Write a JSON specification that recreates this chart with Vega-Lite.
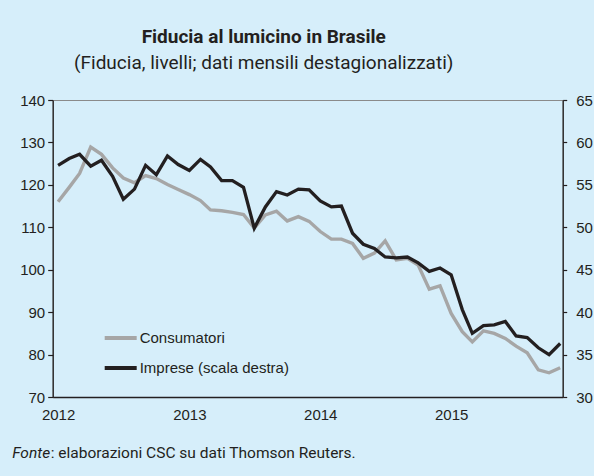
{
  "$schema": "https://vega.github.io/schema/vega-lite/v6.json",
  "width": 510,
  "height": 297,
  "autosize": {"type": "none"},
  "padding": {"left": 52.7, "top": 100, "right": 31.3, "bottom": 79},
  "background": "#d6eefa",
  "title": {
    "text": "Fiducia al lumicino in Brasile",
    "subtitle": "(Fiducia, livelli; dati mensili destagionalizzati)",
    "anchor": "middle",
    "frame": "group",
    "dx": -44,
    "offset": 20,
    "font": "Roboto",
    "fontSize": 19,
    "fontWeight": "bold",
    "color": "#231f20",
    "subtitleFont": "Roboto",
    "subtitleFontSize": 19,
    "subtitleColor": "#231f20",
    "subtitlePadding": 7
  },
  "config": {
    "view": {"stroke": "#8a8a8a", "strokeWidth": 1},
    "axis": {
      "labelFont": "Liberation Sans",
      "labelFontSize": 15,
      "labelColor": "#231f20",
      "domainColor": "#231f20",
      "domainWidth": 1.3,
      "tickColor": "#231f20",
      "tickWidth": 1.2,
      "grid": false
    },
    "legend": {
      "labelFont": "Liberation Sans",
      "labelFontSize": 15,
      "labelColor": "#231f20"
    }
  },
  "datasets": {
    "cons": [
      {"date": "2012-01", "serie": "Consumatori", "value": 116.0},
      {"date": "2012-02", "serie": "Consumatori", "value": 119.4},
      {"date": "2012-03", "serie": "Consumatori", "value": 122.7},
      {"date": "2012-04", "serie": "Consumatori", "value": 128.9},
      {"date": "2012-05", "serie": "Consumatori", "value": 127.2},
      {"date": "2012-06", "serie": "Consumatori", "value": 124.0},
      {"date": "2012-07", "serie": "Consumatori", "value": 121.6},
      {"date": "2012-08", "serie": "Consumatori", "value": 120.5},
      {"date": "2012-09", "serie": "Consumatori", "value": 122.2},
      {"date": "2012-10", "serie": "Consumatori", "value": 121.5},
      {"date": "2012-11", "serie": "Consumatori", "value": 120.1},
      {"date": "2012-12", "serie": "Consumatori", "value": 118.9},
      {"date": "2013-01", "serie": "Consumatori", "value": 117.7},
      {"date": "2013-02", "serie": "Consumatori", "value": 116.3},
      {"date": "2013-03", "serie": "Consumatori", "value": 114.1},
      {"date": "2013-04", "serie": "Consumatori", "value": 113.9},
      {"date": "2013-05", "serie": "Consumatori", "value": 113.5},
      {"date": "2013-06", "serie": "Consumatori", "value": 113.0},
      {"date": "2013-07", "serie": "Consumatori", "value": 109.8},
      {"date": "2013-08", "serie": "Consumatori", "value": 112.9},
      {"date": "2013-09", "serie": "Consumatori", "value": 113.8},
      {"date": "2013-10", "serie": "Consumatori", "value": 111.5},
      {"date": "2013-11", "serie": "Consumatori", "value": 112.5},
      {"date": "2013-12", "serie": "Consumatori", "value": 111.4},
      {"date": "2014-01", "serie": "Consumatori", "value": 109.0},
      {"date": "2014-02", "serie": "Consumatori", "value": 107.2},
      {"date": "2014-03", "serie": "Consumatori", "value": 107.2},
      {"date": "2014-04", "serie": "Consumatori", "value": 106.2},
      {"date": "2014-05", "serie": "Consumatori", "value": 102.7},
      {"date": "2014-06", "serie": "Consumatori", "value": 103.9},
      {"date": "2014-07", "serie": "Consumatori", "value": 106.8},
      {"date": "2014-08", "serie": "Consumatori", "value": 102.3},
      {"date": "2014-09", "serie": "Consumatori", "value": 102.7},
      {"date": "2014-10", "serie": "Consumatori", "value": 101.1},
      {"date": "2014-11", "serie": "Consumatori", "value": 95.4},
      {"date": "2014-12", "serie": "Consumatori", "value": 96.2},
      {"date": "2015-01", "serie": "Consumatori", "value": 89.7},
      {"date": "2015-02", "serie": "Consumatori", "value": 85.4},
      {"date": "2015-03", "serie": "Consumatori", "value": 83.0},
      {"date": "2015-04", "serie": "Consumatori", "value": 85.6},
      {"date": "2015-05", "serie": "Consumatori", "value": 85.0},
      {"date": "2015-06", "serie": "Consumatori", "value": 83.8},
      {"date": "2015-07", "serie": "Consumatori", "value": 82.0},
      {"date": "2015-08", "serie": "Consumatori", "value": 80.4},
      {"date": "2015-09", "serie": "Consumatori", "value": 76.4},
      {"date": "2015-10", "serie": "Consumatori", "value": 75.7},
      {"date": "2015-11", "serie": "Consumatori", "value": 76.9}
    ],
    "imp": [
      {"date": "2012-01", "serie": "Imprese (scala destra)", "value": 57.3},
      {"date": "2012-02", "serie": "Imprese (scala destra)", "value": 58.1},
      {"date": "2012-03", "serie": "Imprese (scala destra)", "value": 58.6},
      {"date": "2012-04", "serie": "Imprese (scala destra)", "value": 57.2},
      {"date": "2012-05", "serie": "Imprese (scala destra)", "value": 57.9},
      {"date": "2012-06", "serie": "Imprese (scala destra)", "value": 56.0},
      {"date": "2012-07", "serie": "Imprese (scala destra)", "value": 53.3},
      {"date": "2012-08", "serie": "Imprese (scala destra)", "value": 54.5},
      {"date": "2012-09", "serie": "Imprese (scala destra)", "value": 57.3},
      {"date": "2012-10", "serie": "Imprese (scala destra)", "value": 56.2},
      {"date": "2012-11", "serie": "Imprese (scala destra)", "value": 58.4},
      {"date": "2012-12", "serie": "Imprese (scala destra)", "value": 57.4},
      {"date": "2013-01", "serie": "Imprese (scala destra)", "value": 56.7},
      {"date": "2013-02", "serie": "Imprese (scala destra)", "value": 58.0},
      {"date": "2013-03", "serie": "Imprese (scala destra)", "value": 57.1},
      {"date": "2013-04", "serie": "Imprese (scala destra)", "value": 55.5},
      {"date": "2013-05", "serie": "Imprese (scala destra)", "value": 55.5},
      {"date": "2013-06", "serie": "Imprese (scala destra)", "value": 54.7},
      {"date": "2013-07", "serie": "Imprese (scala destra)", "value": 49.9},
      {"date": "2013-08", "serie": "Imprese (scala destra)", "value": 52.4},
      {"date": "2013-09", "serie": "Imprese (scala destra)", "value": 54.2},
      {"date": "2013-10", "serie": "Imprese (scala destra)", "value": 53.8},
      {"date": "2013-11", "serie": "Imprese (scala destra)", "value": 54.5},
      {"date": "2013-12", "serie": "Imprese (scala destra)", "value": 54.4},
      {"date": "2014-01", "serie": "Imprese (scala destra)", "value": 53.1},
      {"date": "2014-02", "serie": "Imprese (scala destra)", "value": 52.4},
      {"date": "2014-03", "serie": "Imprese (scala destra)", "value": 52.5},
      {"date": "2014-04", "serie": "Imprese (scala destra)", "value": 49.3},
      {"date": "2014-05", "serie": "Imprese (scala destra)", "value": 48.0},
      {"date": "2014-06", "serie": "Imprese (scala destra)", "value": 47.5},
      {"date": "2014-07", "serie": "Imprese (scala destra)", "value": 46.5},
      {"date": "2014-08", "serie": "Imprese (scala destra)", "value": 46.4},
      {"date": "2014-09", "serie": "Imprese (scala destra)", "value": 46.5},
      {"date": "2014-10", "serie": "Imprese (scala destra)", "value": 45.8},
      {"date": "2014-11", "serie": "Imprese (scala destra)", "value": 44.8},
      {"date": "2014-12", "serie": "Imprese (scala destra)", "value": 45.2},
      {"date": "2015-01", "serie": "Imprese (scala destra)", "value": 44.4},
      {"date": "2015-02", "serie": "Imprese (scala destra)", "value": 40.3},
      {"date": "2015-03", "serie": "Imprese (scala destra)", "value": 37.5},
      {"date": "2015-04", "serie": "Imprese (scala destra)", "value": 38.4},
      {"date": "2015-05", "serie": "Imprese (scala destra)", "value": 38.5},
      {"date": "2015-06", "serie": "Imprese (scala destra)", "value": 38.9},
      {"date": "2015-07", "serie": "Imprese (scala destra)", "value": 37.2},
      {"date": "2015-08", "serie": "Imprese (scala destra)", "value": 37.0},
      {"date": "2015-09", "serie": "Imprese (scala destra)", "value": 35.8},
      {"date": "2015-10", "serie": "Imprese (scala destra)", "value": 35.0},
      {"date": "2015-11", "serie": "Imprese (scala destra)", "value": 36.3}
    ]
  },
  "layer": [
    {
      "data": {"name": "cons", "format": {"parse": {"date": "date:'%Y-%m'"}}},
      "mark": {"type": "line", "strokeWidth": 3.4, "strokeJoin": "miter"},
      "encoding": {
        "x": {
          "field": "date",
          "type": "temporal",
          "scale": {"domain": [{"year": 2011, "month": 12, "date": 17}, {"year": 2015, "month": 11, "date": 8}]},
          "axis": {
            "format": "%Y",
            "values": [{"year": 2012, "month": 1, "date": 1}, {"year": 2013, "month": 1, "date": 1}, {"year": 2014, "month": 1, "date": 1}, {"year": 2015, "month": 1, "date": 1}],
            "ticks": false,
            "labelPadding": 10,
            "title": ": elaborazioni CSC su dati Thomson Reuters.",
            "titleFont": "Roboto",
            "titleFontSize": 15.5,
            "titleFontWeight": "normal",
            "titleColor": "#231f20",
            "titleAnchor": "start",
            "titleAlign": "left",
            "titleBaseline": "alphabetic",
            "titleX": -2.5,
            "titleY": 60.5
          }
        },
        "y": {
          "field": "value",
          "type": "quantitative",
          "scale": {"domain": [70, 140], "nice": false, "zero": false},
          "axis": {
            "values": [70, 80, 90, 100, 110, 120, 130, 140],
            "tickSize": 5,
            "labelPadding": 3,
            "title": "Fonte",
            "titleFont": "Roboto",
            "titleFontSize": 15.5,
            "titleFontStyle": "italic",
            "titleFontWeight": "normal",
            "titleColor": "#231f20",
            "titleAngle": 0,
            "titleAlign": "left",
            "titleBaseline": "alphabetic",
            "titleX": -41,
            "titleY": 357.5
          }
        },
        "color": {
          "field": "serie",
          "type": "nominal",
          "scale": {"domain": ["Consumatori", "Imprese (scala destra)"], "range": ["#a6a6a6", "#231f20"]},
          "legend": {
            "title": null,
            "orient": "none",
            "legendX": 50,
            "legendY": 220,
            "symbolType": "stroke",
            "symbolSize": 1024,
            "symbolStrokeWidth": 4,
            "labelOffset": 1,
            "rowPadding": 4,
            "padding": 0
          }
        }
      }
    },
    {
      "data": {"name": "imp", "format": {"parse": {"date": "date:'%Y-%m'"}}},
      "mark": {"type": "line", "strokeWidth": 3.3, "strokeJoin": "miter"},
      "encoding": {
        "x": {"field": "date", "type": "temporal"},
        "y": {
          "field": "value",
          "type": "quantitative",
          "scale": {"domain": [30, 65], "nice": false, "zero": false},
          "axis": {
            "orient": "right",
            "values": [30, 35, 40, 45, 50, 55, 60, 65],
            "tickSize": 4,
            "labelPadding": 9,
            "title": null
          }
        },
        "color": {"field": "serie", "type": "nominal"}
      }
    }
  ],
  "resolve": {"scale": {"y": "independent"}, "axis": {"y": "independent"}}
}
